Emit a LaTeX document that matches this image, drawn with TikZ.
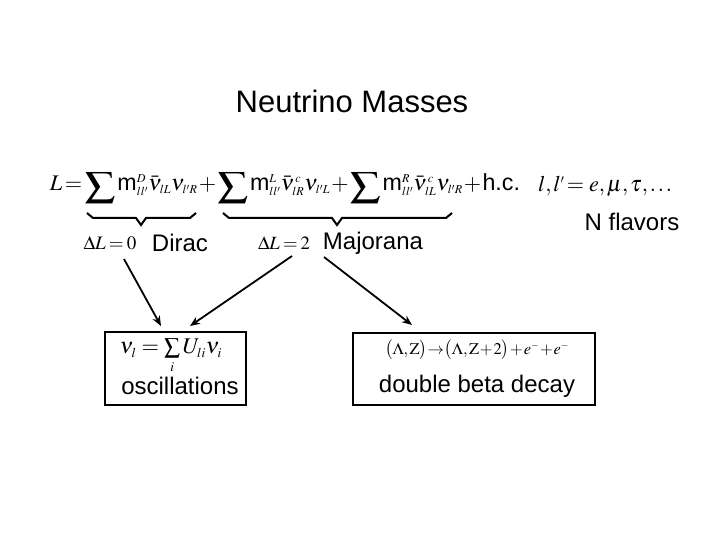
\documentclass[tikz,border=0pt]{standalone}
\usepackage{amsmath}
\usepackage{graphicx}
\usepackage{mathptmx}
\usepackage[no-math]{fontspec}
\setmainfont{Liberation Sans}
\setsansfont{Liberation Sans}
\usetikzlibrary{calc,arrows.meta}
\DeclareMathSizes{24}{24}{13}{10}
\DeclareMathSizes{20}{20}{12}{9}
\newcommand{\tightmath}{\thickmuskip=2mu plus 1mu\medmuskip=1mu plus 1mu\thinmuskip=1.5mu}
\newcommand{\mmass}{\text{\fontsize{25}{28}\selectfont m}}
\newcommand{\wsum}{\mathop{\raisebox{-0.32ex}{\scalebox{1.35}[1.12]{$\displaystyle\sum$}}}\nolimits}
\begin{document}
\begin{tikzpicture}[x=1pt,y=-1pt,
  lbl/.style={inner sep=0pt,font=\fontsize{24}{28}\selectfont},
  ttl/.style={inner sep=0pt,font=\fontsize{31}{36}\selectfont},
  frm/.style={inner sep=0pt,font=\fontsize{20}{24}\selectfont},
  boxed/.style={draw,line width=2pt,inner sep=0pt},
  brc/.style={line width=2pt,line join=miter},
  arr/.style={line width=1.8pt,-{Stealth[length=10pt,width=8pt]}}]
\useasboundingbox[fill=white] (0,0) rectangle (720,540);
\node[ttl] (title) at (352,101) {Neutrino Masses};
\node[lbl] (eq) at (285,188) {\resizebox{470pt}{!}{\tightmath$L=\wsum \mmass^{D}_{ll'}\bar\nu_{lL}\nu_{l'R}+\wsum \mmass^{L}_{ll'}\bar\nu^{\,c}_{lR}\nu_{l'L}+\wsum\mmass^{R}_{ll'}\bar\nu^{\,c}_{lL}\nu_{l'R}+\text{\fontsize{25}{28}\selectfont h.c.}$}};
\node[lbl] (flav) at (605,186) {\resizebox{134pt}{!}{\tightmath$l,l'=\;e,\mu,\tau,\ldots$}};
\node[lbl] (nfl) at (632,222) {N flavors};
% braces
\draw[brc] (87,213) -- (93,218) -- (136,218) -- (141,225) -- (146,218) -- (190,218) -- (196,213);
\draw[brc] (223,213) -- (229,218) -- (332,218) -- (337,225) -- (342,218) -- (446,218) -- (452,213);
\node[frm] (dl0) at (110,243) {\resizebox{53pt}{!}{\thickmuskip=3mu$\Delta L=0$}};
\node[lbl] (dir) at (180,243) {Dirac};
\node[frm] (dl2) at (284,243) {\resizebox{52pt}{!}{\thickmuskip=3mu$\Delta L=2$}};
\node[lbl] (maj) at (373,243) {Majorana};
% boxes
\node[boxed,minimum width=141pt,minimum height=73pt] (box1) at (175.5,368.5) {};
\node[boxed,minimum width=242pt,minimum height=72pt] (box2) at (474,369) {};
\node[frm] (nui) at (171,356) {\resizebox{102pt}{!}{$\nu_l=\sum\limits_i U_{li}\nu_i$}};
\node[lbl] (osc) at (180,386) {oscillations};
\node[frm] (dbf) at (477,350) {\resizebox{184pt}{!}{\tightmath$\bigl(\Lambda,\mathrm{Z}\bigr)\!\to\!\bigl(\Lambda,\mathrm{Z}+2\bigr)+e^-+e^-$}};
\node[lbl] (dbd) at (477,386) {double beta decay};
% arrows
\coordinate (s1) at (124,259);
\coordinate (s2) at (292,256);
\coordinate (s3) at (324,257);
\draw[arr] (s1) -- ($(box1.north)+(-14.5,-5)$);
\draw[arr] (s2) -- ($(box1.north)+(14.5,-5)$);
\draw[arr] (s3) -- ($(box2.north)+(-62,-7)$);
\end{tikzpicture}
\end{document}
